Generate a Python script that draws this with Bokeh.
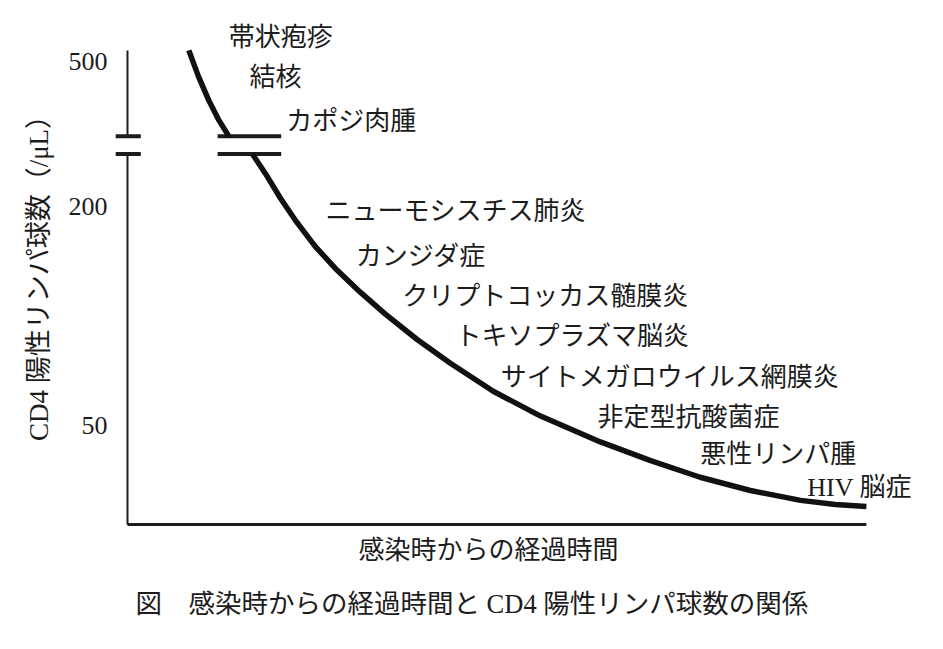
from bokeh.plotting import figure
from bokeh.models import Range1d, FixedTicker, Title, ColumnDataSource
from bokeh.core.properties import value
from bokeh.embed import file_html
from bokeh.resources import INLINE

# ---- data (time since infection in arbitrary years, CD4 count per uL) ----
upper_t = [0.83, 0.96, 1.10, 1.23, 1.37]
upper_cd4 = [535, 454, 390, 346, 311]
lower_t = [1.69, 1.87, 2.07, 2.27, 2.54, 2.81, 3.15, 3.49, 3.92, 4.37, 4.95,
           5.59, 6.40, 7.08, 7.75, 8.43, 9.11, 9.58, 10.0]
lower_cd4 = [278, 245, 210, 183, 155, 135, 116, 101, 86, 74, 62,
             53, 45, 40, 36, 33.1, 31.1, 30.3, 29.9]

y_ticks = [50, 200, 500]
y_tick_labels = ["50", "200", "500"]

diseases = ["帯状疱疹", "結核", "カポジ肉腫", "ニューモシスチス肺炎", "カンジダ症",
            "クリプトコッカス髄膜炎", "トキソプラズマ脳炎", "サイトメガロウイルス網膜炎",
            "非定型抗酸菌症", "悪性リンパ腫", "HIV 脳症"]
disease_t = [1.37, 1.65, 2.15, 2.68, 3.09, 3.72, 4.44, 5.05, 6.36, 7.75, 9.20]
disease_cd4 = [581, 451, 342, 193, 145, 113, 87.5, 67.6, 52.5, 41.6, 33.8]

axis_top = 535
axis_bottom = 26.7
t_end = 10.0
break_hi = 311
break_lo = 278
break_left = [-0.16, 0.18]
break_right = [1.22, 2.08]

FONT = "Liberation Serif, Noto Sans CJK JP"
INK = "#1c1c1c"

p = figure(width=927, height=633, output_backend="svg", toolbar_location=None,
           y_axis_type="log", x_axis_location=None,
           x_range=Range1d(-0.23, 10.8), y_range=Range1d(26.2, 667),
           min_border_left=110, min_border_right=2, min_border_top=15,
           min_border_bottom=105)
p.outline_line_color = None
p.grid.visible = False
p.background_fill_color = "white"
p.border_fill_color = "white"

# y axis (ticks & labels from the library)
ya = p.yaxis[0]
ya.ticker = FixedTicker(ticks=y_ticks)
ya.major_label_overrides = dict(zip(y_ticks, y_tick_labels))
ya.axis_line_color = None
ya.major_tick_line_color = None
ya.minor_tick_line_color = None
ya.major_tick_out = 0
ya.major_tick_in = 0
ya.minor_tick_out = 0
ya.minor_tick_in = 0
ya.major_label_standoff = 3
ya.major_label_text_font = FONT
ya.major_label_text_font_size = "26px"
ya.major_label_text_color = INK
ya.axis_label = "CD4 陽性リンパ球数（/μL）"
ya.axis_label_text_font = FONT
ya.axis_label_text_font_size = "27px"
ya.axis_label_text_font_style = "normal"
ya.axis_label_text_color = INK
ya.axis_label_standoff = 12

# axis lines with break
p.segment(x0=[0, 0], y0=[axis_top, break_lo], x1=[0, 0], y1=[break_hi, axis_bottom],
          line_color=INK, line_width=2)
p.segment(x0=[0], y0=[axis_bottom], x1=[t_end], y1=[axis_bottom],
          line_color=INK, line_width=3)
p.segment(x0=[break_left[0]] * 2 + [break_right[0]] * 2,
          y0=[break_hi, break_lo] * 2,
          x1=[break_left[1]] * 2 + [break_right[1]] * 2,
          y1=[break_hi, break_lo] * 2,
          line_color=INK, line_width=4)

# curve
p.line(upper_t, upper_cd4, line_color="#111111", line_width=5.5, line_join="round")
p.line(lower_t, lower_cd4, line_color="#111111", line_width=5.5, line_join="round")

# disease labels
src = ColumnDataSource(dict(t=disease_t, cd4=disease_cd4, name=diseases))
p.text(x="t", y="cd4", text="name", source=src, text_font=value(FONT),
       text_font_size="26px", text_baseline="middle", text_align="left",
       text_color=INK)

# x axis label and caption
p.add_layout(Title(text="感染時からの経過時間", align="left", offset=248,
                   text_font=FONT, text_font_size="26px", text_font_style="normal",
                   text_color=INK, standoff=13), "below")
p.add_layout(Title(text="図　感染時からの経過時間と CD4 陽性リンパ球数の関係", align="left",
                   offset=25, text_font=FONT, text_font_size="26.5px",
                   text_font_style="normal", text_color=INK, standoff=30), "below")

open("out.html", "w").write(file_html(p, INLINE))
